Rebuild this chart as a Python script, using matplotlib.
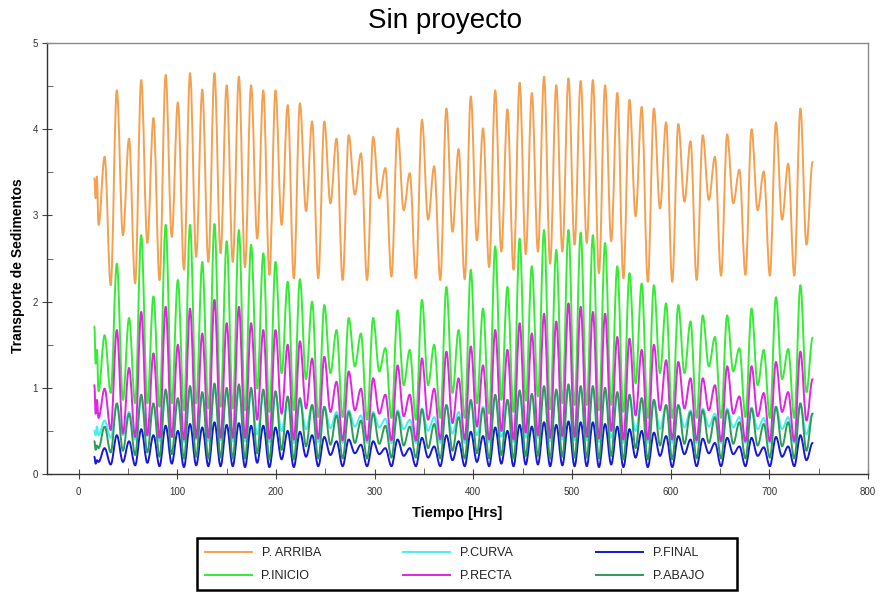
import numpy as np
import matplotlib
matplotlib.use("Agg")
import matplotlib.pyplot as plt
from matplotlib import font_manager
from matplotlib.lines import Line2D
from matplotlib.patches import PathPatch, Rectangle
from matplotlib.path import Path
from matplotlib.ticker import MultipleLocator

installed = {f.name for f in font_manager.fontManager.ttflist}
NARROW = "Liberation Sans Narrow" if "Liberation Sans Narrow" in installed else "Liberation Sans"
plt.rcParams["font.family"] = ["Liberation Sans", "DejaVu Sans"]

# ---------------------------------------------------------------- data
# time stamps [h]: first three records, then successive tidal lows/highs
t_head = [16.0, 17.3, 18.6]
first_low_t = 20.2
half_tide = 6.185
n_ext = 118

# P. ARRIBA
arriba_head = [3.43, 3.20, 3.45]
arriba_low = [2.89, 2.19, 2.77, 2.21, 2.68, 2.25, 2.75, 2.37, 2.52, 2.46,
              2.56, 2.46, 2.40, 2.73, 2.31, 2.89, 2.27, 3.05, 2.27, 3.14,
              2.25, 3.24, 2.25, 3.20, 2.29, 3.06, 2.27, 2.95, 2.25, 2.81,
              2.26, 2.71, 2.40, 2.58, 2.37, 2.55, 2.58, 2.44, 2.58, 2.66,
              2.68, 2.33, 2.70, 2.27, 2.99, 2.23, 3.08, 2.23, 3.16, 2.25,
              3.18, 2.30, 3.14, 2.31, 3.06, 2.30, 2.95, 2.30, 2.66]
arriba_high = [3.68, 4.45, 3.89, 4.57, 4.13, 4.63, 4.31, 4.65, 4.46, 4.65,
               4.51, 4.61, 4.51, 4.45, 4.45, 4.28, 4.30, 4.09, 4.09, 3.89,
               3.93, 3.72, 3.91, 3.55, 4.01, 3.49, 4.11, 3.57, 4.24, 3.77,
               4.38, 4.01, 4.45, 4.23, 4.54, 4.42, 4.61, 4.51, 4.59, 4.56,
               4.57, 4.51, 4.42, 4.34, 4.26, 4.24, 4.08, 4.06, 3.86, 3.93,
               3.68, 3.94, 3.53, 4.00, 3.51, 4.08, 3.60, 4.24, 3.62]

# P.INICIO
inicio_head = [1.71, 1.28, 1.44]
inicio_low = [0.96, 0.94, 0.86, 0.82, 0.82, 0.78, 0.82, 0.74, 0.82, 0.76,
              0.78, 0.76, 0.74, 0.99, 0.72, 1.17, 0.74, 1.10, 0.66, 1.17,
              0.66, 1.25, 0.63, 1.19, 0.65, 1.03, 0.63, 1.03, 0.65, 0.94,
              0.65, 0.82, 0.70, 0.86, 0.72, 0.85, 0.90, 0.75, 0.82, 0.80,
              0.80, 0.74, 0.80, 0.72, 1.05, 0.65, 1.17, 0.65, 1.17, 0.65,
              1.25, 0.65, 1.19, 0.66, 1.03, 0.65, 1.10, 0.65, 0.95]
inicio_high = [1.61, 2.44, 1.81, 2.77, 2.06, 2.89, 2.25, 2.89, 2.46, 2.90,
               2.70, 2.83, 2.66, 2.56, 2.46, 2.23, 2.26, 2.00, 1.96, 1.67,
               1.81, 1.63, 1.81, 1.46, 1.90, 1.44, 2.02, 1.50, 2.17, 1.67,
               2.37, 1.92, 2.64, 2.17, 2.73, 2.41, 2.83, 2.60, 2.83, 2.80,
               2.77, 2.68, 2.41, 2.33, 2.21, 2.19, 1.98, 1.96, 1.77, 1.84,
               1.59, 1.84, 1.46, 1.92, 1.44, 2.05, 1.45, 2.19, 1.58]

# P.RECTA
recta_head = [1.03, 0.70, 0.86]
recta_low = [0.65, 0.51, 0.47, 0.43, 0.45, 0.42, 0.43, 0.40, 0.42, 0.42,
             0.42, 0.42, 0.42, 0.63, 0.41, 0.70, 0.40, 0.76, 0.41, 0.72,
             0.39, 0.74, 0.39, 0.70, 0.39, 0.67, 0.39, 0.63, 0.40, 0.59,
             0.40, 0.55, 0.40, 0.50, 0.40, 0.48, 0.45, 0.42, 0.44, 0.43,
             0.43, 0.41, 0.50, 0.40, 0.68, 0.40, 0.74, 0.40, 0.76, 0.39,
             0.74, 0.38, 0.70, 0.38, 0.67, 0.38, 0.72, 0.38, 0.62]
recta_high = [0.99, 1.67, 1.23, 1.88, 1.40, 1.94, 1.50, 1.92, 1.63, 2.02,
              1.75, 1.94, 1.75, 1.67, 1.67, 1.50, 1.54, 1.34, 1.36, 1.07,
              1.19, 0.99, 1.11, 0.92, 1.26, 0.92, 1.34, 0.99, 1.42, 1.11,
              1.48, 1.26, 1.67, 1.44, 1.75, 1.63, 1.86, 1.77, 1.98, 1.94,
              1.88, 1.86, 1.59, 1.57, 1.44, 1.50, 1.32, 1.30, 1.11, 1.11,
              1.03, 1.25, 0.90, 1.25, 0.94, 1.30, 0.95, 1.42, 1.10]

# P.CURVA
curva_head = [0.50, 0.45, 0.55]
curva_low = [0.45, 0.42, 0.45, 0.40, 0.44, 0.38, 0.43, 0.37, 0.40, 0.38,
             0.39, 0.38, 0.38, 0.46, 0.37, 0.50, 0.36, 0.52, 0.37, 0.53,
             0.36, 0.55, 0.36, 0.54, 0.36, 0.52, 0.36, 0.50, 0.36, 0.47,
             0.36, 0.45, 0.37, 0.43, 0.37, 0.42, 0.42, 0.38, 0.40, 0.39,
             0.39, 0.37, 0.42, 0.36, 0.50, 0.36, 0.52, 0.36, 0.54, 0.36,
             0.55, 0.36, 0.54, 0.36, 0.52, 0.36, 0.52, 0.36, 0.46]
curva_high = [0.62, 0.80, 0.72, 0.88, 0.80, 0.93, 0.86, 0.97, 0.92, 0.98,
              0.95, 0.98, 0.95, 0.94, 0.93, 0.88, 0.86, 0.80, 0.78, 0.72,
              0.74, 0.68, 0.72, 0.64, 0.74, 0.63, 0.76, 0.66, 0.80, 0.72,
              0.84, 0.78, 0.90, 0.86, 0.94, 0.92, 0.97, 0.95, 0.99, 0.98,
              0.98, 0.96, 0.93, 0.90, 0.88, 0.86, 0.80, 0.80, 0.74, 0.76,
              0.70, 0.76, 0.66, 0.77, 0.65, 0.78, 0.66, 0.80, 0.70]

# P.ABAJO
abajo_head = [0.38, 0.28, 0.33]
abajo_low = [0.30, 0.25, 0.27, 0.22, 0.25, 0.20, 0.23, 0.18, 0.20, 0.18,
             0.19, 0.18, 0.18, 0.24, 0.17, 0.28, 0.17, 0.32, 0.18, 0.34,
             0.18, 0.36, 0.18, 0.35, 0.19, 0.33, 0.19, 0.30, 0.18, 0.27,
             0.18, 0.24, 0.18, 0.22, 0.18, 0.21, 0.21, 0.18, 0.20, 0.19,
             0.19, 0.18, 0.21, 0.17, 0.30, 0.17, 0.33, 0.17, 0.35, 0.18,
             0.36, 0.18, 0.35, 0.18, 0.33, 0.19, 0.32, 0.18, 0.27]
abajo_high = [0.55, 0.82, 0.70, 0.92, 0.82, 0.98, 0.88, 1.02, 0.95, 1.05,
              1.00, 1.04, 1.00, 0.98, 0.96, 0.90, 0.88, 0.80, 0.78, 0.68,
              0.72, 0.62, 0.70, 0.56, 0.72, 0.55, 0.75, 0.58, 0.80, 0.66,
              0.86, 0.76, 0.92, 0.86, 0.97, 0.93, 1.02, 0.98, 1.04, 1.02,
              1.02, 1.00, 0.95, 0.92, 0.88, 0.86, 0.80, 0.80, 0.72, 0.74,
              0.66, 0.74, 0.60, 0.76, 0.58, 0.78, 0.60, 0.82, 0.70]

# P.FINAL
final_head = [0.20, 0.12, 0.16]
final_low = [0.14, 0.11, 0.14, 0.10, 0.13, 0.09, 0.12, 0.08, 0.10, 0.09,
             0.09, 0.09, 0.08, 0.13, 0.08, 0.17, 0.08, 0.20, 0.09, 0.22,
             0.09, 0.24, 0.09, 0.23, 0.09, 0.21, 0.09, 0.19, 0.09, 0.16,
             0.09, 0.14, 0.09, 0.12, 0.09, 0.11, 0.11, 0.09, 0.10, 0.09,
             0.09, 0.08, 0.11, 0.08, 0.19, 0.08, 0.21, 0.08, 0.23, 0.09,
             0.24, 0.09, 0.23, 0.09, 0.21, 0.09, 0.20, 0.09, 0.16]
final_high = [0.30, 0.45, 0.38, 0.52, 0.45, 0.56, 0.50, 0.58, 0.54, 0.60,
              0.57, 0.59, 0.56, 0.56, 0.54, 0.50, 0.49, 0.45, 0.43, 0.38,
              0.40, 0.34, 0.38, 0.30, 0.40, 0.30, 0.42, 0.32, 0.45, 0.38,
              0.49, 0.44, 0.54, 0.50, 0.57, 0.55, 0.60, 0.57, 0.61, 0.60,
              0.60, 0.58, 0.55, 0.52, 0.50, 0.48, 0.44, 0.44, 0.40, 0.41,
              0.36, 0.42, 0.32, 0.42, 0.31, 0.43, 0.32, 0.45, 0.36]

x_ticks = [0, 100, 200, 300, 400, 500, 600, 700, 800]
y_ticks = [0, 1, 2, 3, 4, 5]

# label, colour, head, lows, highs (in drawing order)
series = [
    ("P. ARRIBA", "#F5A04F", arriba_head, arriba_low, arriba_high),
    ("P.CURVA",   "#45EFEF", curva_head, curva_low, curva_high),
    ("P.FINAL",   "#1818D8", final_head, final_low, final_high),
    ("P.INICIO",  "#35EC35", inicio_head, inicio_low, inicio_high),
    ("P.RECTA",   "#E024E0", recta_head, recta_low, recta_high),
    ("P.ABAJO",   "#2E9C55", abajo_head, abajo_low, abajo_high),
]
LW = 1.4


def smooth_path(t, y, k=0.36):
    """Cubic Bezier through successive turning points (flat tangents)."""
    verts = [(t[0], y[0])]
    codes = [Path.MOVETO]
    for i in range(len(t) - 1):
        dt = t[i + 1] - t[i]
        verts += [(t[i] + k * dt, y[i]), (t[i + 1] - k * dt, y[i + 1]),
                  (t[i + 1], y[i + 1])]
        codes += [Path.CURVE4] * 3
    return Path(verts, codes)


# ---------------------------------------------------------------- figure
W, H = 881, 592
fig = plt.figure(figsize=(W / 100, H / 100), dpi=100)
ax = fig.add_axes([47 / W, (H - 474) / H, (868 - 47) / W, (474 - 43) / H])

t_ext = first_low_t + half_tide * np.arange(n_ext)
t_all = np.concatenate([t_head, t_ext])

handles = {}
for label, color, head, low, high in series:
    ext = np.empty(n_ext)
    ext[0::2] = low
    ext[1::2] = high
    y = np.concatenate([head, ext])
    ax.add_patch(PathPatch(smooth_path(t_all, y), facecolor="none",
                           edgecolor=color, lw=LW, capstyle="round",
                           joinstyle="round"))
    handles[label] = Line2D([], [], color=color, lw=LW)

ax.set_xlim(-32, 800)
ax.set_ylim(0, 5)
ax.set_xticks(x_ticks)
ax.set_yticks(y_ticks)
ax.xaxis.set_minor_locator(MultipleLocator(50))
ax.yaxis.set_minor_locator(MultipleLocator(0.5))
ax.tick_params(which="major", direction="inout", length=7, width=0.8,
               colors="#444444", labelsize=7, labelcolor="#333333")
ax.tick_params(which="minor", direction="in", length=4, width=0.7,
               colors="#666666")
for lab in ax.get_xticklabels() + ax.get_yticklabels():
    lab.set_family(NARROW)
ax.tick_params(axis="x", pad=6)
ax.tick_params(axis="y", pad=3)

for side in ("top", "right"):
    ax.spines[side].set_color("#8a8a8a")
    ax.spines[side].set_linewidth(1.0)
for side in ("left", "bottom"):
    ax.spines[side].set_color("#333333")
    ax.spines[side].set_linewidth(1.0)

fig.text(445 / W, 1 - 21 / H, "Sin proyecto", ha="center", va="center",
         fontsize=20)
ax.set_xlabel("Tiempo [Hrs]", fontsize=10.5, fontweight="bold", labelpad=6)
fig.text(18 / W, 1 - 266 / H, "Transporte de Sedimentos", rotation=90,
         ha="center", va="center", fontsize=10, fontweight="bold")

# legend: entries laid out in three columns inside a fixed black box
order = ["P. ARRIBA", "P.INICIO", "P.CURVA", "P.RECTA", "P.FINAL", "P.ABAJO"]
leg = fig.legend([handles[k] for k in order], order, ncol=3,
                 loc="upper left", bbox_to_anchor=(197 / W, 1 - 540 / H),
                 fontsize=9, handlelength=3.76, handletextpad=0.8,
                 columnspacing=6.6, borderaxespad=0, frameon=False,
                 borderpad=0.6, labelspacing=0.85)
for t in leg.get_texts():
    t.set_color("#222222")
fig.add_artist(Rectangle((197 / W, 1 - 590 / H), 540 / W, 52 / H,
                         transform=fig.transFigure, fill=False,
                         edgecolor="black", lw=1.8))

fig.savefig("out.png", dpi=100)
